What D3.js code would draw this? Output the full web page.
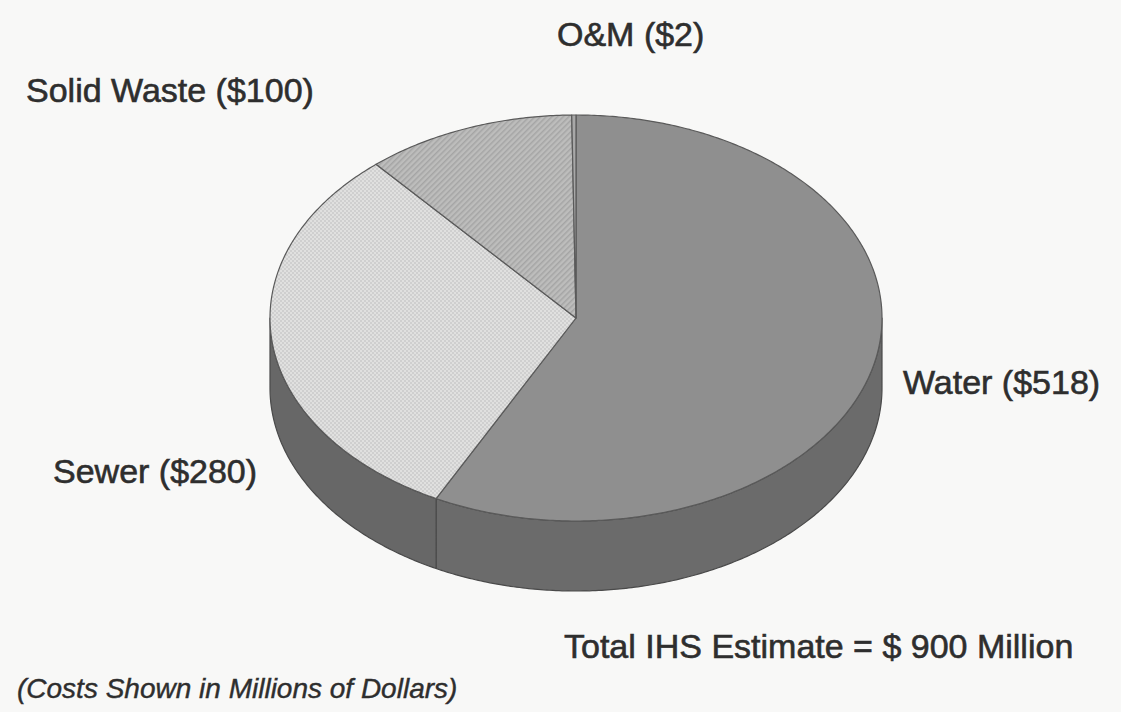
<!DOCTYPE html>
<html>
<head>
<meta charset="utf-8">
<script src="https://cdn.jsdelivr.net/npm/d3@7"></script>
<style>
  html, body { margin: 0; padding: 0; background: #f8f8f7; }
  #chart { width: 1121px; height: 712px; }
  text { font-family: "Liberation Sans", Arial, sans-serif; fill: #2e2e2e; stroke: #2e2e2e; stroke-width: 0.6px; }
</style>
</head>
<body>
<div id="chart"></div>
<script>
// data (millions of dollars), clockwise from 12 o'clock
var categories = ["Water", "Sewer", "Solid Waste", "O&M"];
var costs = [518, 280, 100, 2];
var labels = ["Water ($518)", "Sewer ($280)", "Solid Waste ($100)", "O&M ($2)"];

var W = 1121, H = 712;
var cx = 576, cy = 318, rx = 306, ry = 203, depth = 70;

var topFill = ["#8f8f8f", "url(#dots)", "url(#hatch)", "#a8a8a8"];
var sideFill = ["#6b6b6b", "#676767", "#707070", "#707070"];

var svg = d3.select("#chart").append("svg")
  .attr("width", W)
  .attr("height", H);

var defs = svg.append("defs");

// sewer - light dotted fill
var dots = defs.append("pattern")
  .attr("id", "dots")
  .attr("patternUnits", "userSpaceOnUse")
  .attr("width", 4).attr("height", 4);
dots.append("rect").attr("width", 4).attr("height", 4).attr("fill", "#e0e0df");
dots.append("rect").attr("x", 0).attr("y", 0).attr("width", 2).attr("height", 2).attr("fill", "#cfcfcf");
dots.append("rect").attr("x", 2).attr("y", 2).attr("width", 2).attr("height", 2).attr("fill", "#cfcfcf");

// solid waste - fine diagonal hatch
var hatch = defs.append("pattern")
  .attr("id", "hatch")
  .attr("patternUnits", "userSpaceOnUse")
  .attr("width", 4).attr("height", 4)
  .attr("patternTransform", "rotate(45)");
hatch.append("rect").attr("width", 4).attr("height", 4).attr("fill", "#bdbdbc");
hatch.append("rect").attr("width", 1.5).attr("height", 4).attr("fill", "#a5a5a5");

var pie = d3.pie().sort(null).value(function(d) { return d; });
var arcs = pie(costs);

// point on the ellipse, angle clockwise from 12 o'clock
function pt(a, dy) {
  return [cx + rx * Math.sin(a), cy - ry * Math.cos(a) + (dy || 0)];
}
function ring(a0, a1, dy) {
  var n = Math.max(2, Math.ceil(Math.abs(a1 - a0) / 0.01));
  return d3.range(n + 1).map(function(i) { return pt(a0 + (a1 - a0) * i / n, dy); });
}
var line = d3.line();

var g = svg.append("g");

// front side walls
arcs.forEach(function(d, i) {
  var a0 = Math.max(d.startAngle, Math.PI / 2);
  var a1 = Math.min(d.endAngle, 3 * Math.PI / 2);
  if (a1 <= a0) return;
  var pts = ring(a0, a1, 0).concat(ring(a1, a0, depth));
  g.append("path")
    .attr("d", line(pts) + "Z")
    .attr("fill", sideFill[i])
    .attr("stroke", "#4a4a4a")
    .attr("stroke-width", 1.2)
    .attr("stroke-linejoin", "round");
});

// top faces
arcs.forEach(function(d, i) {
  var pts = [[cx, cy]].concat(ring(d.startAngle, d.endAngle, 0));
  g.append("path")
    .attr("d", line(pts) + "Z")
    .attr("fill", topFill[i])
    .attr("stroke", "#5a5a5a")
    .attr("stroke-width", 1.2)
    .attr("stroke-linejoin", "round");
});

// labels
var labelPos = [
  { x: 903, y: 394 },
  { x: 53, y: 483 },
  { x: 26, y: 102 },
  { x: 557, y: 46 }
];
svg.selectAll("text.label")
  .data(labels)
  .enter().append("text")
  .attr("class", "label")
  .attr("x", function(d, i) { return labelPos[i].x; })
  .attr("y", function(d, i) { return labelPos[i].y; })
  .attr("font-size", 34)
  .text(function(d) { return d; });

svg.append("text")
  .attr("x", 564).attr("y", 658)
  .attr("font-size", 34)
  .text("Total IHS Estimate = $ " + d3.sum(costs) + " Million");

svg.append("text")
  .attr("x", 17).attr("y", 698)
  .attr("font-size", 28)
  .attr("font-style", "italic")
  .style("stroke-width", "0.4px")
  .text("(Costs Shown in Millions of Dollars)");
</script>
</body>
</html>
